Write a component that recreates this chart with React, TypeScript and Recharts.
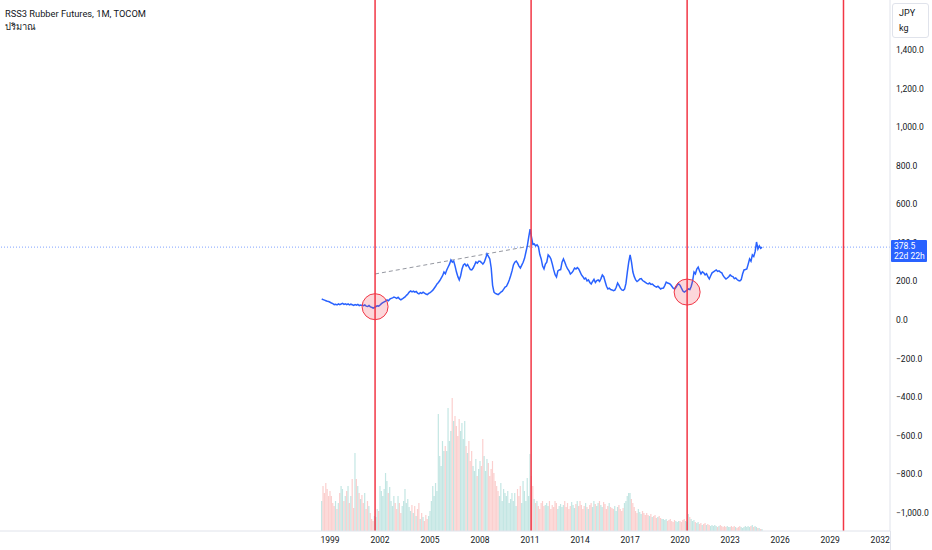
import {
  ComposedChart,
  Line,
  Bar,
  Cell,
  XAxis,
  YAxis,
  ReferenceLine,
  ReferenceDot,
} from "recharts";

// monthly closes, JPY/kg, from Jul 1998 to Dec 2024
const startYear = 1998;
const startMonth = 6; // July

const priceClose = [
  // 1998 (Jul-Dec)
  109, 106, 103, 100, 97, 96,
  // 1999
  92, 88, 85, 80, 82, 78, 84, 80, 83, 86, 81, 84,
  // 2000
  80, 84, 78, 82, 79, 76, 80, 77, 81, 75, 78, 76,
  // 2001
  74, 78, 72, 70, 75, 68, 66, 62, 65, 70, 74, 72,
  // 2002
  78, 85, 90, 94, 98, 104, 100, 108, 112, 115, 119, 116,
  // 2003
  112, 118, 110, 105, 109, 115, 120, 128, 135, 145, 151, 146,
  // 2004
  150, 145, 148, 140, 136, 142, 138, 144, 140, 135, 132, 138,
  // 2005
  142, 148, 155, 165, 175, 187, 195, 205, 218, 230, 249, 240,
  // 2006
  260, 275, 290, 312, 300, 306, 280, 249, 225, 208, 230, 265,
  // 2007
  286, 292, 280, 288, 275, 262, 260, 270, 285, 301, 295, 305,
  // 2008
  305, 298, 290, 300, 320, 343, 330, 317, 270, 180, 145, 138,
  // 2009
  135, 132, 138, 145, 150, 160, 171, 175, 190, 208, 230, 255,
  // 2010
  286, 300, 306, 295, 280, 270, 285, 300, 320, 353, 385, 430,
  // 2011
  472, 430, 392, 395, 385, 390, 380, 340, 317, 280, 265, 290,
  // 2012
  300, 338, 330, 317, 290, 260, 235, 223, 255, 260, 262, 300,
  // 2013
  317, 300, 280, 265, 255, 239, 245, 255, 270, 265, 272, 265,
  // 2014
  250, 234, 225, 213, 218, 203, 208, 195, 187, 200, 211, 195,
  // 2015
  205, 208, 200, 215, 234, 225, 200, 175, 161, 165, 158, 156,
  // 2016
  152, 155, 170, 192, 180, 165, 156, 154, 160, 190, 249, 300,
  // 2017
  338, 300, 249, 225, 208, 200, 205, 213, 215, 205, 200, 195,
  // 2018
  190, 187, 192, 185, 187, 180, 175, 171, 175, 168, 161, 165,
  // 2019
  166, 180, 197, 192, 190, 185, 175, 165, 161, 170, 182, 187,
  // 2020
  180, 165, 150, 145, 150, 155, 161, 158, 175, 203, 249, 240,
  // 2021
  265, 275, 255, 239, 250, 245, 234, 240, 225, 213, 230, 245,
  // 2022
  250, 255, 260, 252, 255, 249, 245, 230, 220, 213, 218, 225,
  // 2023
  234, 228, 225, 215, 218, 210, 205, 203, 210, 240, 260, 262,
  // 2024
  265, 290, 317, 305, 338, 330, 355, 405, 369, 385, 372, 378.5,
];

// monthly volume, thousand lots (rough)
const volumeK = [
  // 1998 (Jul-Dec)
  30, 45, 38, 48, 42, 35,
  // 1999
  40, 35, 28, 25, 30, 22, 28, 38, 45, 42, 30, 35,
  // 2000
  40, 45, 28, 35, 52, 23, 78, 52, 45, 38, 32, 36,
  // 2001
  28, 38, 22, 30, 25, 18, 12, 10, 15, 14, 22, 20,
  // 2002
  45, 40, 35, 42, 58, 50, 38, 44, 30, 25, 35, 28,
  // 2003
  22, 35, 28, 18, 25, 30, 42, 28, 32, 24, 20, 26,
  // 2004
  18, 25, 15, 22, 28, 12, 18, 14, 10, 16, 12, 15,
  // 2005
  20, 30, 45, 35, 48, 40, 117, 75, 65, 90, 80, 85,
  // 2006
  80, 123, 90, 100, 133, 110, 115, 105, 95, 112, 100, 108,
  // 2007
  92, 110, 85, 78, 90, 70, 80, 65, 60, 72, 55, 62,
  // 2008
  70, 65, 92, 75, 60, 72, 68, 55, 62, 70, 58, 50,
  // 2009
  45, 40, 35, 48, 30, 42, 38, 35, 40, 28, 32, 38,
  // 2010
  30, 38, 25, 42, 35, 45, 28, 50, 40, 30, 53, 35,
  // 2011
  77, 55, 45, 32, 28, 30, 25, 22, 28, 30, 25, 26,
  // 2012
  28, 25, 30, 22, 26, 24, 30, 28, 22, 25, 27, 24,
  // 2013
  26, 30, 24, 28, 22, 25, 29, 26, 23, 27, 30, 25,
  // 2014
  30, 26, 22, 25, 28, 24, 22, 26, 28, 24, 30, 27,
  // 2015
  25, 28, 30, 26, 24, 29, 27, 22, 25, 28, 24, 23,
  // 2016
  22, 25, 20, 24, 26, 22, 20, 23, 28, 30, 35, 38,
  // 2017
  38, 32, 28, 24, 20, 18, 22, 19, 17, 20, 18, 16,
  // 2018
  18, 16, 15, 17, 14, 15, 16, 13, 14, 15, 13, 12,
  // 2019
  12, 11, 12, 10, 11, 12, 10, 9, 11, 10, 9, 10,
  // 2020
  10, 9, 11, 12, 10, 9, 17, 14, 12, 10, 11, 9,
  // 2021
  8, 9, 7, 8, 6, 7, 8, 6, 7, 6, 5, 6,
  // 2022
  5, 6, 5, 4, 5, 6, 5, 4, 5, 4, 5, 4,
  // 2023
  4, 5, 4, 5, 4, 3, 4, 5, 4, 3, 4, 5,
  // 2024
  4, 5, 4, 5, 6, 4, 5, 4, 3, 3, 2, 2,
];

const yearTicks = [1999, 2002, 2005, 2008, 2011, 2014, 2017, 2020, 2023, 2026, 2029, 2032];
const priceTicks = [-1000, -800, -600, -400, -200, 0, 200, 400, 600, 800, 1000, 1200, 1400];

// cycle markers drawn on the chart
const cycleLines = [2001.7, 2011.06, 2020.42, 2029.8];
const cycleCircles = [
  { t: 2001.7, v: 69 },
  { t: 2020.42, v: 145 },
];
const trendFrom = { t: 2001.7, v: 239 };
const trendTo = { t: 2011.0, v: 384 };
const lastPrice = 378.5;

const data = priceClose.map((close, i) => ({
  t: startYear + (startMonth + i) / 12,
  close,
  vol: volumeK[i],
  up: i === 0 || close >= priceClose[i - 1],
}));

const FONT = "Roboto, 'Noto Sans', 'DejaVu Sans', sans-serif";
const TEXT = "#131722";
const RED = "#F23645";
const BLUE = "#2962FF";

const fmtPrice = (v: number) => {
  const s = Math.abs(v).toLocaleString("en-US", {
    minimumFractionDigits: 1,
    maximumFractionDigits: 1,
  });
  return v < 0 ? "\u2212" + s : s;
};

export default function App() {
  return (
    <div style={{ position: "relative", width: 932, height: 550, background: "#fff", fontFamily: FONT }}>
      <style>{"body{margin:0}"}</style>
      <ComposedChart
        width={932}
        height={550}
        data={data}
        margin={{ top: 0, right: 0, bottom: 0, left: 0 }}
      >
        <XAxis
          dataKey="t"
          type="number"
          domain={[1979.2, 2032.59]}
          ticks={yearTicks}
          interval={0}
          allowDataOverflow
          tickFormatter={(v) => String(Math.round(v))}
          tick={{ fontSize: 8.5, fill: TEXT, fontFamily: FONT }}
          axisLine={{ stroke: "#E0E3EB" }}
          tickLine={false}
          tickSize={0}
          tickMargin={6}
          height={19}
        />
        <YAxis
          yAxisId="price"
          orientation="right"
          width={42}
          domain={[-1096, 1662]}
          ticks={priceTicks}
          interval={0}
          allowDataOverflow
          tickFormatter={fmtPrice}
          tick={{ fontSize: 8.5, fill: TEXT, fontFamily: FONT }}
          axisLine={{ stroke: "#E0E3EB" }}
          tickLine={false}
          tickSize={0}
          tickMargin={6}
        />
        <YAxis yAxisId="vol" hide domain={[0, 531]} allowDataOverflow />

        <Bar dataKey="vol" yAxisId="vol" barSize={1.2} isAnimationActive={false}>
          {data.map((d, i) => (
            <Cell key={i} fill={d.up ? "rgba(38,166,154,0.28)" : "rgba(239,83,80,0.28)"} />
          ))}
        </Bar>

        <ReferenceLine
          yAxisId="price"
          y={lastPrice}
          stroke={BLUE}
          strokeOpacity={0.6}
          strokeDasharray="1 2"
        />
        <ReferenceLine
          yAxisId="price"
          segment={[
            { x: trendFrom.t, y: trendFrom.v },
            { x: trendTo.t, y: trendTo.v },
          ]}
          stroke="#9598A1"
          strokeDasharray="4 3"
        />
        {cycleCircles.map((c, i) => (
          <ReferenceDot
            key={"c" + i}
            yAxisId="price"
            x={c.t}
            y={c.v}
            r={13}
            fill="rgba(242,54,69,0.2)"
            stroke={RED}
            strokeWidth={1}
          />
        ))}

        <Line
          yAxisId="price"
          dataKey="close"
          type="linear"
          stroke={BLUE}
          strokeWidth={1.5}
          dot={false}
          activeDot={false}
          isAnimationActive={false}
        />

        {cycleLines.map((t, i) => (
          <ReferenceLine key={"v" + i} yAxisId="price" x={t} stroke={RED} strokeWidth={1.5} />
        ))}
      </ComposedChart>

      {/* price axis border down to the bottom */}
      <div style={{ position: "absolute", left: 890, top: 531, width: 1, height: 19, background: "#E0E3EB" }} />

      {/* legend top-left */}
      <div style={{ position: "absolute", left: 5, top: 7, fontSize: 9.3, color: TEXT, lineHeight: "13px" }}>
        <div>RSS3 Rubber Futures, 1M, TOCOM</div>
        <div>ปริมาณ</div>
      </div>

      {/* currency / unit box */}
      <div
        style={{
          position: "absolute",
          left: 892,
          top: 3,
          width: 37,
          height: 35,
          border: "1px solid #E0E3EB",
          borderRadius: 3,
          background: "#fff",
          fontSize: 9,
          color: TEXT,
          lineHeight: "15px",
          paddingLeft: 6,
          paddingTop: 2,
          boxSizing: "border-box",
        }}
      >
        <div>JPY</div>
        <div>kg</div>
      </div>

      {/* last price label */}
      <div
        style={{
          position: "absolute",
          left: 891,
          top: 240,
          width: 36,
          height: 22,
          background: BLUE,
          color: "#fff",
          fontSize: 8.5,
          lineHeight: "10px",
          padding: "1px 3px",
          boxSizing: "border-box",
          whiteSpace: "nowrap",
          borderRadius: 1,
        }}
      >
        <div>{lastPrice.toFixed(1)}</div>
        <div>22d 22h</div>
      </div>
    </div>
  );
}
